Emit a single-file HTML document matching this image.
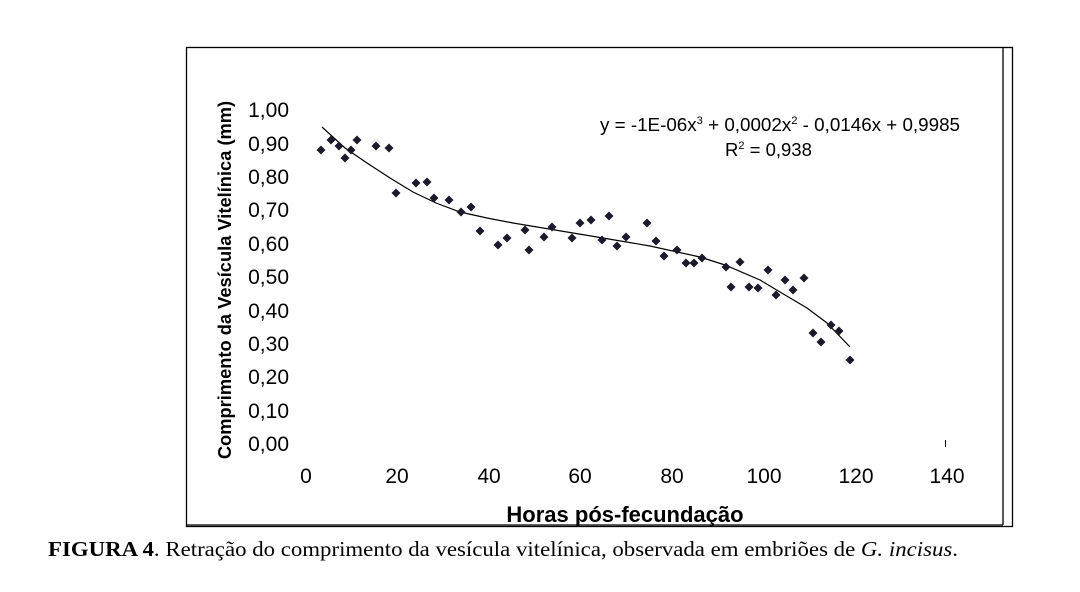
<!DOCTYPE html>
<html><head><meta charset="utf-8"><style>
body{margin:0;background:#fff;width:1080px;height:592px;overflow:hidden}
svg{display:block}
text{font-family:"Liberation Sans",Arial,sans-serif;fill:#000}
</style></head><body>
<svg id="s" width="1080" height="592" xmlns="http://www.w3.org/2000/svg">
<rect x="186.5" y="47.5" width="826" height="479" fill="none" stroke="#000" stroke-width="1.3"/>
<line x1="1003" y1="48" x2="1003" y2="525" stroke="#000" stroke-width="1.3"/>
<line x1="186" y1="525" x2="1003" y2="525" stroke="#000" stroke-width="1.3"/>
<g font-size="21" text-anchor="end">
<text x="289" y="117">1,00</text><text x="289" y="151">0,90</text><text x="289" y="184">0,80</text>
<text x="289" y="217">0,70</text><text x="289" y="251">0,60</text><text x="289" y="284">0,50</text>
<text x="289" y="318">0,40</text><text x="289" y="351">0,30</text><text x="289" y="384">0,20</text>
<text x="289" y="418">0,10</text><text x="289" y="451">0,00</text>
</g>
<g font-size="21" text-anchor="middle">
<text x="306" y="483">0</text><text x="397" y="483">20</text><text x="489" y="483">40</text>
<text x="580" y="483">60</text><text x="672" y="483">80</text><text x="764" y="483">100</text>
<text x="856" y="483">120</text><text x="947" y="483">140</text>
</g>
<line x1="945.5" y1="440" x2="945.5" y2="447" stroke="#000" stroke-width="1"/>
<text x="625" y="522" font-size="22" font-weight="bold" text-anchor="middle">Horas pós-fecundação</text>
<text transform="translate(231,280) rotate(-90)" font-size="18.3" font-weight="bold" text-anchor="middle">Comprimento da Vesícula Vitelínica (mm)</text>
<text x="600" y="131" font-size="18.5" textLength="360" lengthAdjust="spacingAndGlyphs">y = -1E-06x<tspan font-size="11" dy="-7">3</tspan><tspan dy="7"> + 0,0002x</tspan><tspan font-size="11" dy="-7">2</tspan><tspan dy="7"> - 0,0146x + 0,9985</tspan></text>
<text x="725" y="156" font-size="18.5">R<tspan font-size="11" dy="-7">2</tspan><tspan dy="7"> = 0,938</tspan></text>
<polyline fill="none" stroke="#000" stroke-width="1.2" points="322,127 345,148 367,163 390,178 413,192 436,203 460,212 487,218 513,223 555,230 597,237 650,246 700,257 725,265 760,280 780,292 807,308 827,323 850,347"/>
<g id="p" fill="#1a1a2a"></g>
<text x="48" y="556" font-size="21" style="font-family:'Liberation Serif',serif" textLength="910" lengthAdjust="spacingAndGlyphs"><tspan font-weight="bold">FIGURA 4</tspan>. Retração do comprimento da vesícula vitelínica, observada em embriões de <tspan font-style="italic">G. incisus</tspan>.</text>
</svg>
<script>
var pts=[[321,150],[331,140],[339,146],[345,158],[351,150],[357,140],[376,146],[389,148],[396,193],[416,183],[427,182],[434,198],[449,200],[461,212],[471,207],[480,231],[498,245],[507,238],[525,230],[529,250],[544,237],[552,227],[572,238],[580,223],[591,220],[602,240],[609,216],[617,246],[626,237],[647,223],[656,241],[664,256],[677,250],[686,263],[694,263],[702,258],[726,267],[731,287],[740,262],[749,287],[758,288],[768,270],[776,295],[785,280],[793,290],[804,278],[813,333],[821,342],[831,325],[839,331],[850,360]];
var g=document.getElementById('p'),h='';
pts.forEach(function(q){h+='<polygon points="'+q[0]+','+(q[1]-4.5)+' '+(q[0]+4.5)+','+q[1]+' '+q[0]+','+(q[1]+4.5)+' '+(q[0]-4.5)+','+q[1]+'"/>';});
g.innerHTML=h;
</script>
</body></html>
